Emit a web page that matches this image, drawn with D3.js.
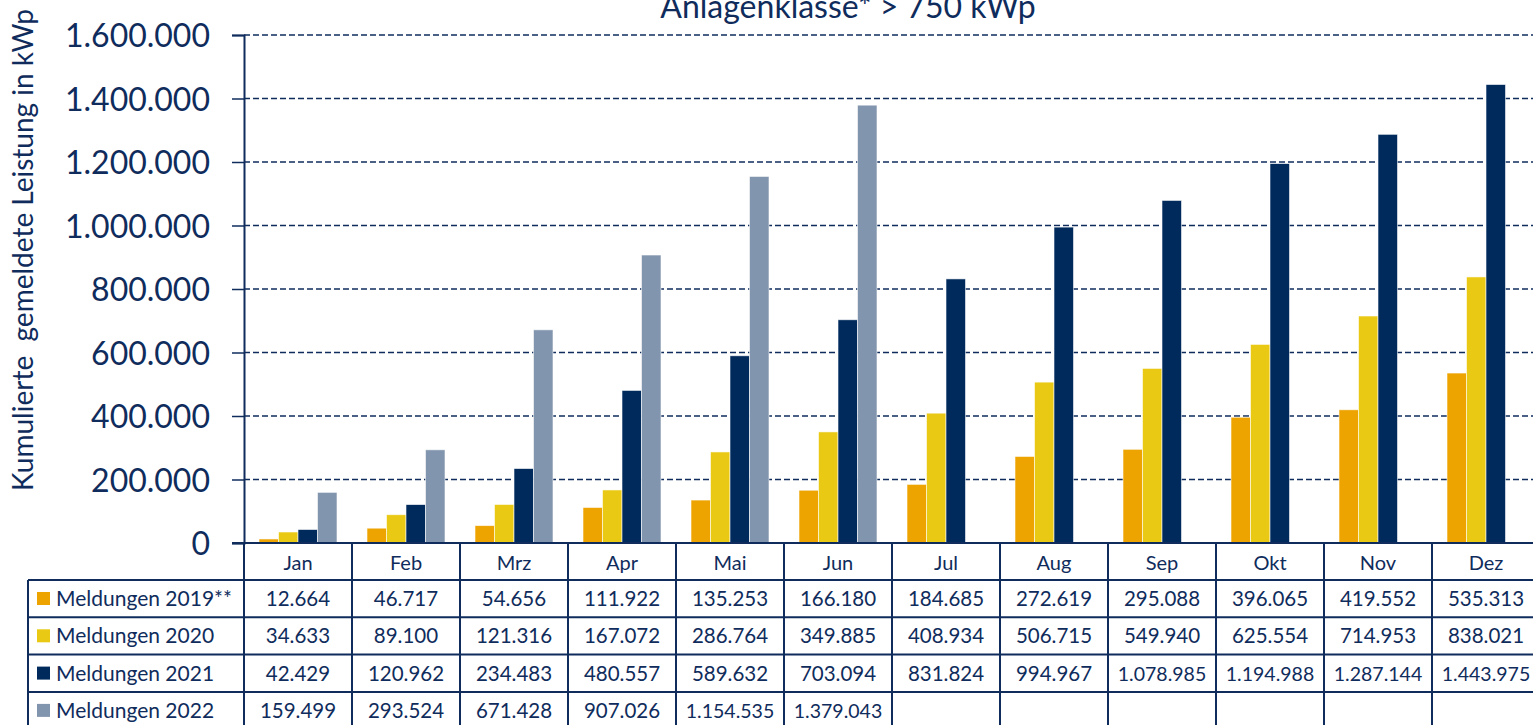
<!DOCTYPE html>
<html>
<head>
<meta charset="utf-8">
<script src="https://d3js.org/d3.v7.min.js"></script>
<style>
    body { margin: 0; background: #fff; }
    svg { display: block; font-family: Lato, "Noto Sans", sans-serif; }
</style>
</head>
<body>
<div id="chart"></div>
<script>

    // data
    var months = ["Jan", "Feb", "Mrz", "Apr", "Mai", "Jun", "Jul", "Aug", "Sep", "Okt", "Nov", "Dez"];
    var seriesNames = ["Meldungen 2019**", "Meldungen 2020", "Meldungen 2021", "Meldungen 2022"];
    var values2019 = [12664, 46717, 54656, 111922, 135253, 166180, 184685, 272619, 295088, 396065, 419552, 535313];
    var values2020 = [34633, 89100, 121316, 167072, 286764, 349885, 408934, 506715, 549940, 625554, 714953, 838021];
    var values2021 = [42429, 120962, 234483, 480557, 589632, 703094, 831824, 994967, 1078985, 1194988, 1287144, 1443975];
    var values2022 = [159499, 293524, 671428, 907026, 1154535, 1379043, null, null, null, null, null, null];
    var yTicks = [0, 200000, 400000, 600000, 800000, 1000000, 1200000, 1400000, 1600000];

    var colors = ["#eda300", "#e9c913", "#002a5c", "#8295ae"];
    var ink = "#0f2c5c";

    var allValues = [values2019, values2020, values2021, values2022];

    var W = 1533, H = 725;
    var svg = d3.select("#chart").append("svg")
        .attr("width", W)
        .attr("height", H);

    var de = d3.formatLocale({ decimal: ",", thousands: ".", grouping: [3], currency: ["", " €"] });
    var fmt = de.format(",d");

    // scales
    var x = d3.scaleBand()
        .domain(months)
        .range([244, 244 + 12 * 108]);

    var xs = d3.scaleBand()
        .domain(d3.range(4))
        .range([15, 93]);

    var y = d3.scaleLinear()
        .domain([0, 1600000])
        .range([543, 35]);

    // title (cut off at the top like the original)
    svg.append("text")
        .attr("x", 848)
        .attr("y", 18)
        .attr("text-anchor", "middle")
        .attr("font-size", 32)
        .attr("fill", ink)
        .text("Anlagenklasse* > 750 kWp");

    // grid lines
    svg.append("g")
        .selectAll("line")
        .data(yTicks.filter(function (d) { return d > 0; }))
        .enter()
        .append("line")
        .attr("x1", 244)
        .attr("x2", W)
        .attr("y1", function (d) { return y(d); })
        .attr("y2", function (d) { return y(d); })
        .attr("stroke", ink)
        .attr("stroke-width", 1.3)
        .attr("stroke-dasharray", "6,3");

    // y axis
    var yAxis = svg.append("g")
        .attr("transform", "translate(244,0)")
        .call(d3.axisLeft(y).tickValues(yTicks).tickFormat(fmt).tickSize(12).tickPadding(22));
    yAxis.select(".domain").attr("stroke", ink).attr("stroke-width", 2);
    yAxis.selectAll(".tick line").attr("stroke", ink).attr("stroke-width", 1.5);
    yAxis.selectAll(".tick text")
        .attr("fill", ink)
        .attr("font-size", 32)
        .attr("dy", "0.36em")
        .attr("font-family", "Lato, sans-serif");

    // y label
    svg.append("text")
        .attr("transform", "translate(33,250) rotate(-90)")
        .attr("text-anchor", "middle")
        .attr("font-size", 28)
        .attr("fill", ink)
        .attr("xml:space", "preserve")
        .text("Kumulierte  gemeldete Leistung in kWp");

    // bars
    var groups = svg.append("g")
        .selectAll("g")
        .data(allValues)
        .enter()
        .append("g")
        .attr("fill", function (d, i) { return colors[i]; });

    groups.each(function (vals, s) {
        d3.select(this).selectAll("rect")
            .data(vals.map(function (v, m) { return { m: months[m], v: v }; }).filter(function (d) { return d.v != null; }))
            .enter()
            .append("rect")
            .attr("x", function (d) { return x(d.m) + xs(s); })
            .attr("y", function (d) { return y(d.v); })
            .attr("width", xs.bandwidth())
            .attr("height", function (d) { return y(0) - y(d.v); })
            .attr("stroke", "#ffffff")
            .attr("stroke-opacity", 0.7)
            .attr("stroke-width", 0.8);
    });

    // x axis baseline
    svg.append("line")
        .attr("x1", 232).attr("x2", W)
        .attr("y1", y(0)).attr("y2", y(0))
        .attr("stroke", ink).attr("stroke-width", 2);

    // data table
    var headerTop = y(0), headerBottom = 580, rowH = 37.3;
    var tableBottom = headerBottom + rowH * 4;
    var tbl = svg.append("g").attr("stroke", ink).attr("stroke-width", 2);

    // vertical lines between month columns
    tbl.selectAll(".vcol")
        .data(months.concat(["end"]))
        .enter()
        .append("line")
        .attr("x1", function (d, i) { return 244 + i * x.bandwidth(); })
        .attr("x2", function (d, i) { return 244 + i * x.bandwidth(); })
        .attr("y1", headerTop)
        .attr("y2", tableBottom);

    // legend column left border
    tbl.append("line")
        .attr("x1", 28).attr("x2", 28)
        .attr("y1", headerBottom).attr("y2", tableBottom);

    // horizontal row lines
    tbl.selectAll(".hrow")
        .data(d3.range(5))
        .enter()
        .append("line")
        .attr("x1", 28)
        .attr("x2", W)
        .attr("y1", function (d) { return headerBottom + d * rowH; })
        .attr("y2", function (d) { return headerBottom + d * rowH; });

    // month labels
    svg.append("g")
        .selectAll("text")
        .data(months)
        .enter()
        .append("text")
        .attr("x", function (d) { return x(d) + x.bandwidth() / 2; })
        .attr("y", 570)
        .attr("text-anchor", "middle")
        .attr("font-size", 20)
        .attr("fill", ink)
        .text(function (d) { return d; });

    // legend rows
    var legend = svg.append("g")
        .selectAll("g")
        .data(seriesNames)
        .enter()
        .append("g")
        .attr("transform", function (d, i) { return "translate(0," + (headerBottom + i * rowH) + ")"; });

    legend.append("rect")
        .attr("x", 37)
        .attr("y", 12)
        .attr("width", 13)
        .attr("height", 13)
        .attr("fill", function (d, i) { return colors[i]; });

    legend.append("text")
        .attr("x", 56)
        .attr("y", 26)
        .attr("font-size", 21)
        .attr("fill", ink)
        .text(function (d) { return d; });

    // values
    allValues.forEach(function (vals, s) {
        svg.append("g")
            .selectAll("text")
            .data(vals.map(function (v, m) { return { m: months[m], v: v }; }).filter(function (d) { return d.v != null; }))
            .enter()
            .append("text")
            .attr("x", function (d) { return x(d.m) + x.bandwidth() / 2; })
            .attr("y", headerBottom + s * rowH + 26)
            .attr("text-anchor", "middle")
            .attr("font-size", function (d) { return d.v >= 1000000 ? 19.5 : 20.5; })
            .attr("fill", ink)
            .text(function (d) { return fmt(d.v); });
    });

</script>
</body>
</html>
